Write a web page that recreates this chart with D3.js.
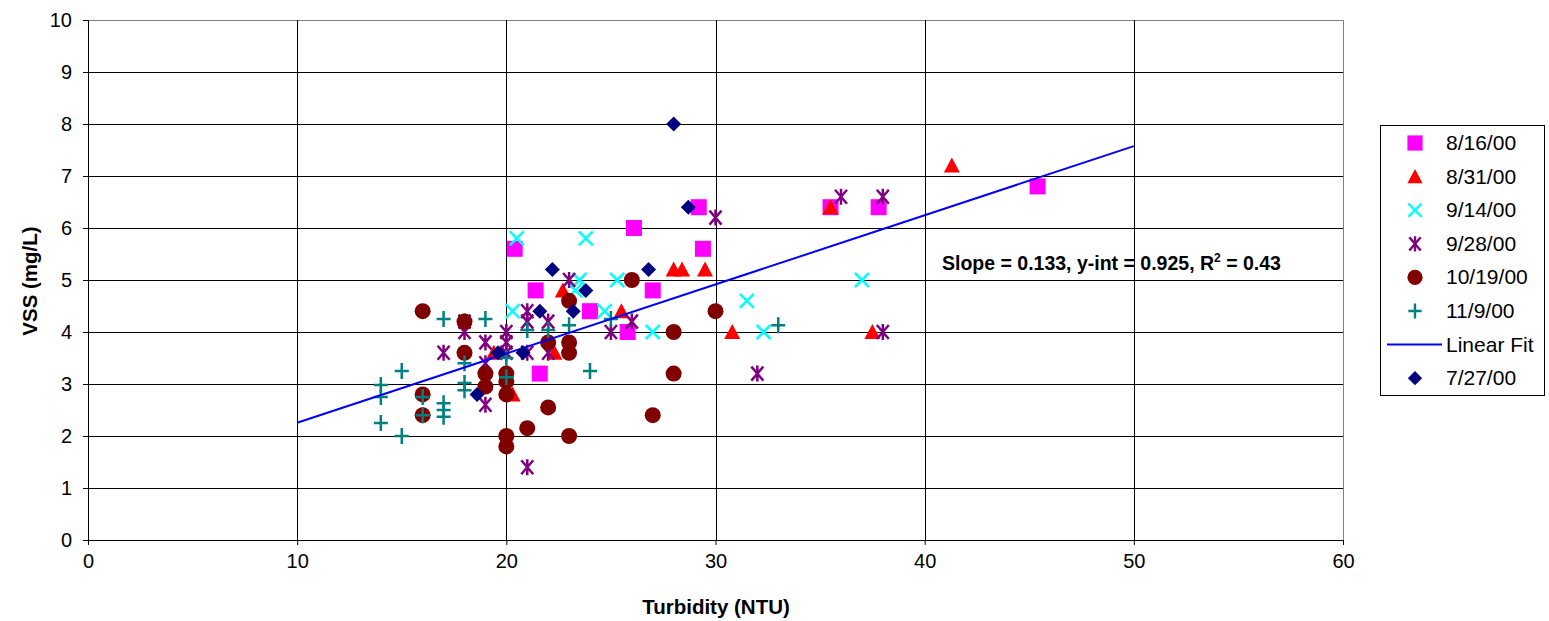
<!DOCTYPE html>
<html>
<head>
<meta charset="utf-8">
<script src="https://cdn.jsdelivr.net/npm/d3@7"></script>
<style>
  body { margin: 0; background: #fff; }
  svg { font-family: "Liberation Sans", Arial, sans-serif; }
</style>
</head>
<body>
<svg width="1549" height="621"></svg>
<script>
// Series data: [turbidity NTU, VSS mg/L]
var s0816 = [[20.4,5.6],[21.4,4.8],[21.6,3.2],[24.0,4.4],[25.8,4.0],[26.1,6.0],[27.0,4.8],[29.2,6.4],[29.4,5.6],[35.5,6.4],[37.8,6.4],[45.4,6.8]];
var s0831 = [[19.4,3.6],[20.3,2.8],[22.3,3.6],[22.7,4.8],[25.5,4.4],[28.0,5.2],[28.4,5.2],[29.5,5.2],[30.8,4.0],[35.5,6.4],[37.5,4.0],[41.3,7.2]];
var s0914 = [[20.3,4.4],[20.5,5.8],[23.3,4.8],[23.5,5.0],[23.8,5.8],[24.7,4.4],[25.3,5.0],[27.0,4.0],[31.5,4.6],[32.3,4.0],[37.0,5.0]];
var s0928 = [[17.0,3.6],[18.0,4.0],[18.0,4.2],[19.0,2.6],[19.0,3.4],[19.0,3.8],[20.0,3.6],[20.0,3.8],[20.0,4.0],[21.0,1.4],[21.0,3.6],[21.0,4.2],[21.0,4.4],[22.0,3.6],[22.0,4.2],[23.0,5.0],[25.0,4.0],[26.0,4.2],[30.0,6.2],[32.0,3.2],[36.0,6.6],[38.0,6.6],[38.0,4.0]];
var s1019 = [[16.0,4.4],[16.0,2.8],[16.0,2.4],[18.0,4.2],[18.0,3.6],[19.0,3.2],[19.0,2.95],[20.0,3.2],[20.0,3.05],[20.0,2.8],[20.0,2.0],[20.0,1.8],[21.0,2.15],[22.0,3.8],[22.0,2.55],[23.0,4.6],[23.0,3.8],[23.0,3.6],[23.0,2.0],[26.0,5.0],[27.0,2.4],[28.0,4.0],[28.0,3.2],[30.0,4.4]];
var s1109 = [[14.0,2.98],[14.0,2.75],[14.0,2.25],[15.0,3.25],[15.0,2.0],[16.0,2.75],[16.0,2.4],[17.0,4.25],[17.0,2.63],[17.0,2.5],[17.0,2.37],[18.0,3.4],[18.0,3.02],[18.0,2.88],[19.0,4.25],[20.0,3.5],[20.0,3.13],[21.0,4.04],[22.0,4.04],[23.0,4.13],[24.0,3.25],[25.0,4.25],[33.0,4.13]];
var s0727 = [[18.6,2.8],[19.6,3.6],[20.8,3.6],[21.6,4.4],[22.2,5.2],[23.2,4.4],[23.8,4.8],[26.8,5.2],[28.0,8.0],[28.7,6.4]];

// Linear fit
var fitSlope = 0.133, fitIntercept = 0.925, fitR2 = 0.43;
var fitRange = [10, 50];

var xTicks = [0, 10, 20, 30, 40, 50, 60];
var yTicks = [0, 1, 2, 3, 4, 5, 6, 7, 8, 9, 10];

var series = [
  {name: "8/16/00", data: s0816, shape: "square", color: "#ff00ff"},
  {name: "8/31/00", data: s0831, shape: "triangle", color: "#ff0000"},
  {name: "9/14/00", data: s0914, shape: "x", color: "#00ffff"},
  {name: "9/28/00", data: s0928, shape: "star", color: "#800080"},
  {name: "10/19/00", data: s1019, shape: "circle", color: "#800000"},
  {name: "11/9/00", data: s1109, shape: "plus", color: "#008080"},
  {name: "Linear Fit", line: true, color: "#0000ff"},
  {name: "7/27/00", data: s0727, shape: "diamond", color: "#000080"}
];

var svg = d3.select("svg");
var margin = {top: 20, left: 88};
var width = 1343 - 88, height = 540 - 20;

var x = d3.scaleLinear().domain([0, 60]).range([0, width]);
var y = d3.scaleLinear().domain([0, 10]).range([height, 0]);

var g = svg.append("g").attr("transform", "translate(" + margin.left + "," + margin.top + ")");

// grid
g.selectAll(".hgrid").data(yTicks.slice(1)).enter().append("line")
  .attr("x1", 0).attr("x2", width)
  .attr("y1", function(d) { return Math.round(y(d)) + 0.5; })
  .attr("y2", function(d) { return Math.round(y(d)) + 0.5; })
  .attr("stroke", function(d) { return d === 10 ? "#808080" : "#000"; })
  .attr("stroke-width", 1);
g.selectAll(".vgrid").data(xTicks.slice(1)).enter().append("line")
  .attr("y1", 0).attr("y2", height)
  .attr("x1", function(d) { return Math.round(x(d)) + 0.5; })
  .attr("x2", function(d) { return Math.round(x(d)) + 0.5; })
  .attr("stroke", function(d) { return d === 60 ? "#808080" : "#000"; })
  .attr("stroke-width", 1);

// axes
var xAxis = g.append("g").attr("transform", "translate(0," + height + ")")
  .call(d3.axisBottom(x).tickValues(xTicks).tickSize(5).tickPadding(9));
var yAxis = g.append("g")
  .call(d3.axisLeft(y).tickValues(yTicks).tickSize(5).tickPadding(11));
[xAxis, yAxis].forEach(function(a) {
  a.attr("font-size", 20).attr("font-family", null);
  a.select(".domain").attr("stroke", "#000");
  a.selectAll("line").attr("stroke", "#000");
  a.selectAll("text").attr("fill", "#000");
});

// axis titles
svg.append("text").attr("x", 716).attr("y", 614).attr("text-anchor", "middle")
  .attr("font-size", 20.5).attr("font-weight", "bold").text("Turbidity (NTU)");
svg.append("text").attr("transform", "translate(37,281) rotate(-90)").attr("text-anchor", "middle")
  .attr("font-size", 20.5).attr("font-weight", "bold").text("VSS (mg/L)");

// marker shapes
function drawMarker(sel, shape, color) {
  if (shape === "square") {
    sel.append("rect").attr("x", -8).attr("y", -8).attr("width", 16).attr("height", 16).attr("fill", color);
  } else if (shape === "triangle") {
    sel.append("path").attr("d", "M0,-8L8,7L-8,7Z").attr("fill", color);
  } else if (shape === "diamond") {
    sel.append("path").attr("d", "M0,-7.5L7.5,0L0,7.5L-7.5,0Z").attr("fill", color);
  } else if (shape === "circle") {
    sel.append("circle").attr("r", 8).attr("fill", color);
  } else if (shape === "x") {
    sel.append("path").attr("d", "M-7,-7L7,7M-7,7L7,-7").attr("stroke", color).attr("stroke-width", 2.5).attr("fill", "none");
  } else if (shape === "star") {
    sel.append("path").attr("d", "M-6,-7L6,7M-6,7L6,-7M0,-8L0,8").attr("stroke", color).attr("stroke-width", 2.5).attr("fill", "none");
  } else if (shape === "plus") {
    sel.append("path").attr("d", "M-7,0L7,0M0,-8L0,8").attr("stroke", color).attr("stroke-width", 2.5).attr("fill", "none");
  }
}

var line = d3.line().x(function(d) { return x(d); }).y(function(d) { return y(fitSlope * d + fitIntercept); });

series.forEach(function(s) {
  if (s.line) {
    g.append("path").datum(fitRange).attr("d", line)
      .attr("stroke", s.color).attr("stroke-width", 2).attr("fill", "none");
    return;
  }
  g.selectAll(null).data(s.data).enter().append("g")
    .attr("transform", function(d) { return "translate(" + x(d[0]) + "," + y(d[1]) + ")"; })
    .each(function() { drawMarker(d3.select(this), s.shape, s.color); });
});

// fit annotation
var ann = svg.append("text").attr("x", 942).attr("y", 270).attr("font-size", 19.5).attr("font-weight", "bold");
ann.append("tspan").text("Slope = " + fitSlope + ", y-int = " + fitIntercept + ", R");
ann.append("tspan").attr("dy", -8).attr("font-size", 12).text("2");
ann.append("tspan").attr("dy", 8).text(" = " + fitR2);

// legend
var legend = svg.append("g");
legend.append("rect").attr("x", 1380.5).attr("y", 125.5).attr("width", 164).attr("height", 270)
  .attr("fill", "#fff").attr("stroke", "#000");
var rows = legend.selectAll(".row").data(series).enter().append("g")
  .attr("transform", function(d, i) { return "translate(1415," + (143 + i * 33.6) + ")"; });
rows.each(function(s) {
  var r = d3.select(this);
  if (s.line) {
    r.append("line").attr("x1", -28).attr("x2", 27).attr("stroke", s.color).attr("stroke-width", 2);
  } else {
    var m = r.append("g").attr("transform", "scale(0.95)");
    drawMarker(m, s.shape, s.color);
  }
  r.append("text").attr("x", 31).attr("y", 7).attr("font-size", 21)
    .text(s.name);
});
</script>
</body>
</html>
